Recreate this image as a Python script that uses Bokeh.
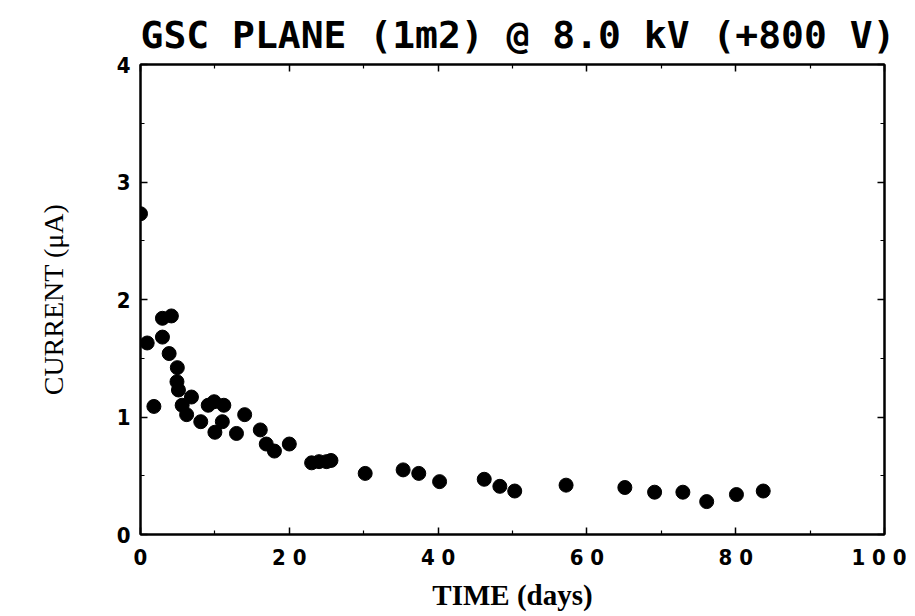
from bokeh.plotting import figure
from bokeh.models import Range1d, LinearAxis, FixedTicker, Title
from bokeh.embed import file_html
from bokeh.resources import INLINE

# Data
time_days = [0.0, 0.9, 1.8, 2.95, 2.95, 4.15, 3.85, 4.95, 4.9, 5.1, 5.6, 6.2, 6.85,
             8.1, 9.1, 9.9, 11.2, 10.0, 11.0, 12.9, 14.0, 16.1, 16.9, 18.0, 20.0,
             23.0, 24.0, 25.0, 25.6, 30.2, 35.3, 37.4, 40.2, 46.2, 48.3, 50.3,
             57.2, 65.1, 69.1, 72.9, 76.1, 80.1, 83.7]
current_ua = [2.73, 1.63, 1.09, 1.68, 1.84, 1.86, 1.54, 1.42, 1.30, 1.23, 1.10, 1.02, 1.17,
              0.96, 1.10, 1.13, 1.10, 0.87, 0.96, 0.86, 1.02, 0.89, 0.77, 0.71, 0.77,
              0.61, 0.62, 0.62, 0.63, 0.52, 0.55, 0.52, 0.45, 0.47, 0.41, 0.37,
              0.42, 0.40, 0.36, 0.36, 0.28, 0.34, 0.37]
x_ticks = [0, 20, 40, 60, 80, 100]
x_minor = [10, 30, 50, 70, 90]
y_ticks = [0, 1, 2, 3, 4]
y_minor = [0.5, 1.5, 2.5, 3.5]
x_tick_labels = {0: "0", 20: "2 0", 40: "4 0", 60: "6 0", 80: "8 0", 100: "1 0 0"}
title_text = "GSC PLANE  (1m2) @ 8.0 kV (+800 V)"

TICK_FONT = "DejaVu Sans Condensed"

p = figure(width=906, height=614, output_backend="svg", toolbar_location=None,
           x_range=Range1d(0, 100), y_range=Range1d(0, 4),
           x_axis_location=None, y_axis_location=None,
           min_border_left=140, min_border_right=22, min_border_top=64, min_border_bottom=80)
p.grid.visible = False
p.outline_line_color = "black"
p.outline_line_width = 2
p.background_fill_color = "white"
p.border_fill_color = "white"

def style_axis(ax, show_labels, major, minor):
    ax.ticker = FixedTicker(ticks=major, minor_ticks=minor)
    ax.axis_line_color = "black"
    ax.axis_line_width = 2
    ax.major_tick_in = 7
    ax.major_tick_out = 0
    ax.minor_tick_in = 4
    ax.minor_tick_out = 0
    ax.major_tick_line_width = 1.5
    ax.minor_tick_line_width = 1.2
    ax.major_tick_line_color = "black"
    ax.minor_tick_line_color = "black"
    if not show_labels:
        ax.major_label_text_font_size = "0px"
        ax.major_label_text_alpha = 0
    else:
        ax.major_label_text_font = TICK_FONT
        ax.major_label_text_font_style = "bold"
        ax.major_label_text_font_size = "22px"
        ax.major_label_text_color = "black"

xb = LinearAxis(axis_label="TIME (days)")
style_axis(xb, True, x_ticks, x_minor)
xb.major_label_overrides = x_tick_labels
xb.major_label_standoff = 10
xb.axis_label_text_font = "Liberation Serif"
xb.axis_label_text_font_style = "bold"
xb.axis_label_text_font_size = "29px"
xb.axis_label_text_color = "black"
xb.axis_label_standoff = 6
p.add_layout(xb, "below")

yl = LinearAxis(axis_label="CURRENT (\u03bcA)")
style_axis(yl, True, y_ticks, y_minor)
yl.major_label_standoff = 10
yl.axis_label_text_font = "Liberation Serif"
yl.axis_label_text_font_style = "normal"
yl.axis_label_text_font_size = "28px"
yl.axis_label_text_color = "black"
yl.axis_label_standoff = 45
p.add_layout(yl, "left")

xt = LinearAxis()
style_axis(xt, False, x_ticks, x_minor)
p.add_layout(xt, "above")

yr = LinearAxis()
style_axis(yr, False, y_ticks, y_minor)
p.add_layout(yr, "right")

t = Title(text=title_text, text_font="DejaVu Sans Mono", text_font_style="bold",
          text_font_size="38px", text_color="black", align="left", offset=0, standoff=16)
p.add_layout(t, "above")

p.scatter(time_days, current_ua, size=14, color="black", marker="circle")

open("out.html", "w").write(file_html(p, INLINE))
